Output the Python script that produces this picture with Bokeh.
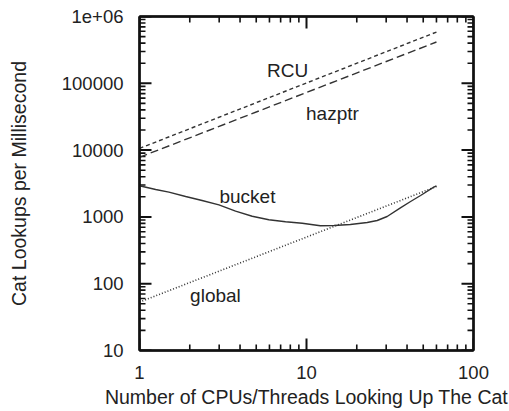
from bokeh.plotting import figure
from bokeh.models import FixedTicker, LogAxis, Label
from bokeh.embed import file_html
from bokeh.resources import INLINE

# ---- data ----
rcu_x = [1, 60]
rcu_y = [10600, 585000]

hazptr_x = [1, 60]
hazptr_y = [7800, 415000]

global_x = [1, 60]
global_y = [53, 2850]

bucket_x = [1, 1.25, 1.5, 1.89, 2.37, 2.99, 3.76, 4.73, 5.95, 7.49, 9.43, 12.1,
            14.6, 18.3, 23.1, 26.5, 30.4, 36.5, 42.0, 48.2, 57.8, 60]
bucket_y = [2930, 2570, 2344, 2020, 1762, 1517, 1217, 1024, 905, 845, 805, 736,
            743, 770, 824, 883, 1014, 1368, 1701, 2090, 2786, 2900]

x_ticks = [1, 10, 100]
x_tick_labels = ["1", "10", "100"]
y_ticks = [10, 100, 1000, 10000, 100000, 1000000]
y_tick_labels = ["10", "100", "1000", "10000", "100000", "1e+06"]

series_labels = ["RCU", "hazptr", "bucket", "global"]
label_x = [7.7, 14.3, 4.43, 2.85]
label_y = [155000, 35300, 2020, 66.6]

FONT = "Liberation Sans"
TXT = "#222222"
LINE = "#333333"
AX = "#111111"

X_LO, X_HI = 1, 100
Y_LO, Y_HI = 10, 1e6

W, H = 509, 411
BL, BR, BT, BB = 139, 36, 16, 61
FW, FH = W - BL - BR, H - BT - BB
PX_PER_DEC_X = FW / 2.0
PX_PER_DEC_Y = FH / 5.0
MAJ, MIN = 12, 6

p = figure(width=W, height=H, x_axis_type="log", y_axis_type="log",
           x_range=(X_LO, X_HI), y_range=(Y_LO, Y_HI),
           output_backend="svg", toolbar_location=None,
           min_border_left=BL, min_border_right=BR,
           min_border_top=BT, min_border_bottom=BB)
p.grid.visible = False
p.background_fill_color = "white"
p.border_fill_color = "white"
p.outline_line_color = AX
p.outline_line_width = 2

def minors(lo_exp, hi_exp):
    out = []
    for e in range(lo_exp, hi_exp):
        for m in range(2, 10):
            out.append(m * 10 ** e)
    return out

x_minor = minors(0, 2)
y_minor = minors(1, 6)

def style(ax, labels=True):
    ax.axis_line_color = AX
    ax.axis_line_width = 2.5
    ax.major_tick_line_color = None
    ax.minor_tick_line_color = None
    ax.major_tick_in = 0
    ax.minor_tick_in = 0
    ax.major_tick_out = 0
    ax.minor_tick_out = 0
    ax.major_label_text_font = FONT
    ax.major_label_text_font_size = "18.5px"
    ax.major_label_text_color = TXT
    ax.axis_label_text_font = FONT
    ax.axis_label_text_font_size = "19.5px"
    ax.axis_label_text_font_style = "normal"
    ax.axis_label_text_color = TXT
    if not labels:
        ax.major_label_text_font_size = "0px"
        ax.major_label_text_color = None

xa = p.xaxis[0]
xa.ticker = FixedTicker(ticks=x_ticks, minor_ticks=x_minor)
xa.major_label_overrides = {t: s for t, s in zip(x_ticks, x_tick_labels)}
xa.axis_label = "Number of CPUs/Threads Looking Up The Cat"
style(xa)
xa.major_label_standoff = 15
xa.axis_label_standoff = 4

ya = p.yaxis[0]
ya.ticker = FixedTicker(ticks=y_ticks, minor_ticks=y_minor)
ya.major_label_overrides = {t: s for t, s in zip(y_ticks, y_tick_labels)}
ya.axis_label = "Cat Lookups per Millisecond"
style(ya)
ya.major_label_standoff = 16
ya.axis_label_standoff = 29

top = LogAxis(ticker=FixedTicker(ticks=x_ticks, minor_ticks=x_minor))
style(top, labels=False)
p.add_layout(top, "above")
right = LogAxis(ticker=FixedTicker(ticks=y_ticks, minor_ticks=y_minor))
style(right, labels=False)
p.add_layout(right, "right")

# inward tick marks on all four sides: one short two-point line per tick
def add_ticks(xt, yt, length, width):
    fy = 10 ** (length / PX_PER_DEC_Y)
    fx = 10 ** (length / PX_PER_DEC_X)
    for v in xt:
        p.line([v, v], [Y_LO, Y_LO * fy], line_color=AX, line_width=width)
        p.line([v, v], [Y_HI, Y_HI / fy], line_color=AX, line_width=width)
    for v in yt:
        p.line([X_LO, X_LO * fx], [v, v], line_color=AX, line_width=width)
        p.line([X_HI, X_HI / fx], [v, v], line_color=AX, line_width=width)

add_ticks(x_ticks, y_ticks, MAJ, 2)
add_ticks(x_minor, y_minor, MIN, 1.6)

p.line(rcu_x, rcu_y, line_color=LINE, line_width=1.4, line_dash="4 3")
p.line(hazptr_x, hazptr_y, line_color=LINE, line_width=1.4, line_dash="8 4")
p.line(bucket_x, bucket_y, line_color=LINE, line_width=1.4)
p.line(global_x, global_y, line_color=LINE, line_width=1.6, line_dash="1 2")

for t, lx, ly in zip(series_labels, label_x, label_y):
    p.add_layout(Label(x=lx, y=ly, text=t, text_font=FONT, text_font_size="19px",
                       text_color=TXT, text_align="center", text_baseline="middle"))

open("out.html", "w").write(file_html(p, INLINE))
